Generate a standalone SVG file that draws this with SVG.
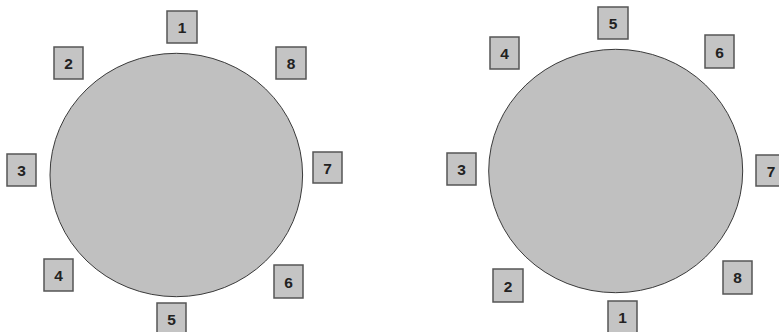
<svg xmlns="http://www.w3.org/2000/svg" width="779" height="332" viewBox="0 0 779 332">
<style>
.c{fill:#c0c0c0;stroke:#3a3a3a;stroke-width:1}
.b{fill:#c4c4c4;stroke:#555;stroke-width:1.5}
.t{font-family:"Liberation Sans",Arial,sans-serif;font-weight:bold;font-size:15.5px;fill:#222;text-anchor:middle}
</style>
<rect width="779" height="332" fill="#fff"/>
<g id="circle-left"><ellipse class="c" cx="176.3" cy="175" rx="126.3" ry="121.7"/></g>
<g id="circle-right"><ellipse class="c" cx="615.7" cy="171" rx="127" ry="121.7"/></g>
<g id="L1"><rect class="b" x="167" y="11" width="30" height="32"/><text class="t" x="182" y="32.5">1</text></g>
<g id="L2"><rect class="b" x="54" y="47" width="29" height="32"/><text class="t" x="68.5" y="68.5">2</text></g>
<g id="L8"><rect class="b" x="276" y="47" width="30" height="32"/><text class="t" x="291" y="68.5">8</text></g>
<g id="L3"><rect class="b" x="7" y="154" width="29" height="32"/><text class="t" x="21.5" y="175.5">3</text></g>
<g id="L7"><rect class="b" x="313" y="152" width="29" height="31"/><text class="t" x="327.5" y="173.5">7</text></g>
<g id="L4"><rect class="b" x="44" y="259" width="29" height="32"/><text class="t" x="58.5" y="280.5">4</text></g>
<g id="L6"><rect class="b" x="274" y="265" width="29" height="33"/><text class="t" x="288.5" y="287.5">6</text></g>
<g id="L5"><rect class="b" x="157" y="303" width="29" height="32"/><text class="t" x="171.5" y="324.5">5</text></g>
<g id="R5"><rect class="b" x="598" y="7" width="30" height="32"/><text class="t" x="613" y="28.5">5</text></g>
<g id="R4"><rect class="b" x="490" y="37" width="29" height="32"/><text class="t" x="504.5" y="58.5">4</text></g>
<g id="R6"><rect class="b" x="705" y="35" width="29" height="33"/><text class="t" x="719.5" y="57.5">6</text></g>
<g id="R3"><rect class="b" x="447" y="153" width="29" height="32"/><text class="t" x="461.5" y="174.5">3</text></g>
<g id="R7"><rect class="b" x="756" y="155" width="30" height="31"/><text class="t" x="771" y="176.5">7</text></g>
<g id="R2"><rect class="b" x="493" y="269" width="30" height="33"/><text class="t" x="508" y="291.5">2</text></g>
<g id="R8"><rect class="b" x="723" y="261" width="29" height="33"/><text class="t" x="737.5" y="282.5">8</text></g>
<g id="R1"><rect class="b" x="608" y="301" width="29" height="32"/><text class="t" x="622.5" y="322.5">1</text></g>
<g id="connectors"></g>
</svg>
